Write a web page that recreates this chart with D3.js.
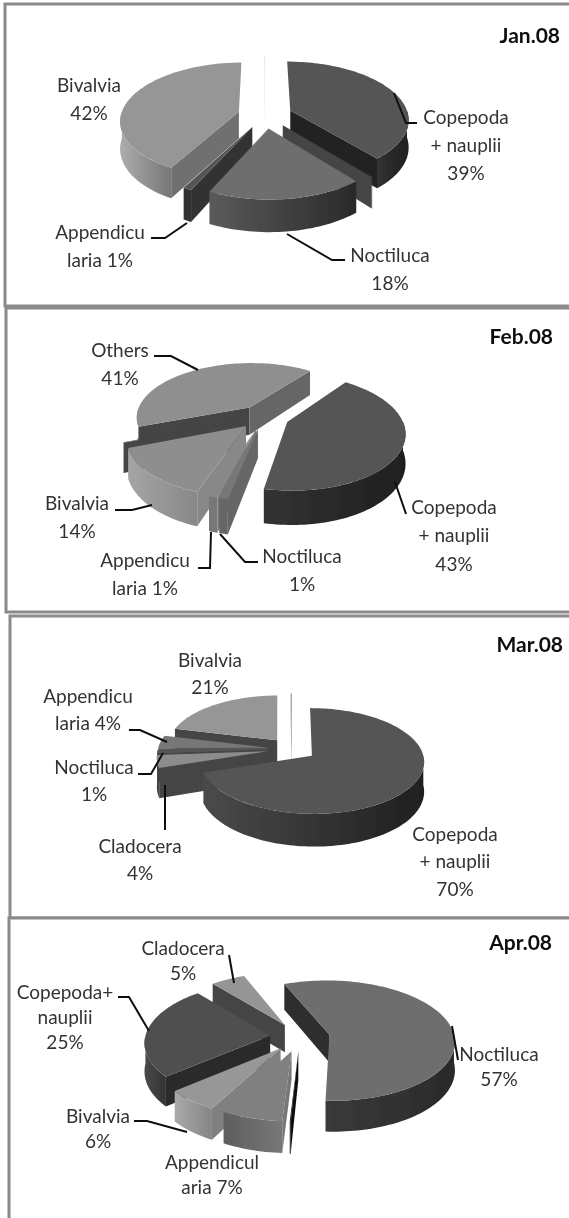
<!DOCTYPE html>
<html lang="en">
<head>
<meta charset="utf-8">
<script src="https://d3js.org/d3.v7.min.js"></script>
<style>
  html, body { margin: 0; padding: 0; background: #fff; overflow: hidden; }
  text { font-family: Lato, "Open Sans", sans-serif; font-size: 19px; fill: #333; }
  .title { font-weight: 700; font-size: 21px; fill: #111; }
</style>
</head>
<body>
<div id="chart"></div>
<script>
// the "Others" slivers carry no label in the original
var months = ["Jan.08", "Feb.08", "Mar.08", "Apr.08"];

var janNames = ["Copepoda + nauplii", "Others", "Noctiluca", "Appendicularia", "Bivalvia", "Others"];
var janValues = [39, 0.1, 18, 1, 42, 0.1];
var janLabels = [["Copepoda", "+ nauplii", "39%"], null, ["Noctiluca", "18%"], ["Appendicu", "laria 1%"], ["Bivalvia", "42%"], null];

var febNames = ["Copepoda + nauplii", "Noctiluca", "Appendicularia", "Bivalvia", "Others", "Others"];
var febValues = [43, 1, 1, 14, 0.1, 41];
var febLabels = [["Copepoda", "+ nauplii", "43%"], ["Noctiluca", "1%"], ["Appendicu", "laria 1%"], ["Bivalvia", "14%"], null, ["Others", "41%"]];

var marNames = ["Copepoda + nauplii", "Cladocera", "Noctiluca", "Appendicularia", "Bivalvia", "Others"];
var marValues = [70, 4, 1, 4, 21, 0.2];
var marLabels = [["Copepoda", "+ nauplii", "70%"], ["Cladocera", "4%"], ["Noctiluca", "1%"], ["Appendicu", "laria 4%"], ["Bivalvia", "21%"], null];

var aprNames = ["Noctiluca", "Others", "Appendicularia", "Bivalvia", "Copepoda + nauplii", "Cladocera"];
var aprValues = [57, 0.1, 7, 6, 25, 5];
var aprLabels = [["Noctiluca", "57%"], null, ["Appendicul", "aria 7%"], ["Bivalvia", "6%"], ["Copepoda+", "nauplii", "25%"], ["Cladocera", "5%"]];

var width = 569, height = 1218;

// one entry per slice: top, start wall, end wall, rim colours left to right
var panels = [
  {
    name: months[0], values: janValues, labels: janLabels,
    frame: [5, 4, 600, 302], titleAt: [560, 36], lineGap: 28,
    cx: 265, cy: 115, rx: 118, ry: 57, depth: 27, explode: 0.23, start: 0, tilt: 0.14,
    tops: ["#555", "#444", "#6e6e6e", "#555", "#969696", "#ddd"],
    wallA: ["#222", "#444", "#444", "#333", "#6f6f6f", "#ddd"],
    wallB: ["#222", "#444", "#444", "#333", "#6f6f6f", "#ddd"],
    rims: [["#333", "#1f1f1f"], ["#444", "#444"], ["#5a5a5a", "#2a2a2a"], ["#333", "#333"], ["#adadad", "#777"], ["#ddd", "#ddd"]],
    labelAt: [[466, 117], null, [390, 255], [100, 232], [89, 85], null],
    leaders: [[[394, 93], [406, 123], [417, 123]], null, [[287, 234], [332, 260], [345, 260]], [[187, 223], [165, 238], [151, 238]], null, null]
  },
  {
    name: months[1], values: febValues, labels: febLabels,
    frame: [6, 308, 600, 304], titleAt: [553, 337], lineGap: 28.5,
    cx: 264, cy: 417, rx: 114, ry: 55, depth: 28, explode: 0.22, start: 37, tilt: 0.17,
    tops: ["#555", "#777", "#888", "#8e8e8e", "#444", "#8f8f8f"],
    wallA: ["#222", "#666", "#777", "#888", "#444", "#444"],
    wallB: ["#222", "#666", "#777", "#888", "#444", "#666"],
    rims: [["#333", "#1f1f1f"], ["#666", "#666"], ["#777", "#777"], ["#a5a5a5", "#888"], ["#444", "#444"], ["#888", "#666"]],
    labelAt: [[454, 507], [302, 556], [145, 560], [77, 503], null, [120, 350]],
    leaders: [[[395, 482], [406, 514]], [[220, 534], [245, 562], [258, 562]], [[211, 532], [210, 568], [198, 568]], [[152, 505], [132, 510], [115, 510]], null, [[198, 370], [171, 356], [154, 356]]]
  },
  {
    name: months[2], values: marValues, labels: marLabels,
    frame: [10, 616, 600, 302], titleAt: [563, 645], lineGap: 27.5,
    cx: 292, cy: 749, rx: 110, ry: 51, depth: 29, explode: 0.22, start: 0, tilt: 0.1,
    tops: ["#555", "#8c8c8c", "#555", "#777", "#969696", "#999"],
    wallA: ["#222", "#444", "#444", "#555", "#444", "#999"],
    wallB: ["#222", "#444", "#444", "#555", "#444", "#999"],
    rims: [["#4a4a4a", "#1f1f1f"], ["#444", "#444"], ["#444", "#444"], ["#555", "#555"], ["#444", "#444"], ["#999", "#999"]],
    labelAt: [[455, 834], [140, 846], [94, 767], [88, 696], [210, 660], null],
    leaders: [null, [[165, 785], [165, 830]], [[163, 753], [151, 774], [138, 774]], [[167, 742], [140, 730], [129, 730]], null, null]
  },
  {
    name: months[3], values: aprValues, labels: aprLabels,
    frame: [9, 918, 600, 400], titleAt: [552, 943], lineGap: 25,
    cx: 300, cy: 1037, rx: 125, ry: 60, depth: 28, explode: 0.24, start: -22, tilt: 0.1,
    tops: ["#6e6e6e", "#111", "#808080", "#979797", "#505050", "#959595"],
    wallA: ["#2e2e2e", "#111", "#777", "#808080", "#2a2a2a", "#444"],
    wallB: ["#2e2e2e", "#111", "#777", "#808080", "#2a2a2a", "#444"],
    rims: [["#3a3a3a", "#2a2a2a"], ["#111", "#111"], ["#5e5e5e", "#777"], ["#aaa", "#858585"], ["#4a4a4a", "#333"], ["#444", "#444"]],
    labelAt: [[499, 1054], null, [212, 1162], [98, 1116], [65, 992], [183, 948]],
    leaders: [[[452, 1026], [458, 1060]], null, null, [[187, 1132], [147, 1121], [134, 1121]], [[149, 1031], [129, 997], [118, 997]], [[234, 983], [229, 955]]]
  }
];

var svg = d3.select("#chart").append("svg")
  .attr("width", width)
  .attr("height", height);

var defs = svg.append("defs");
defs.append("filter").attr("id", "soft")
  .attr("filterUnits", "userSpaceOnUse")
  .attr("x", 0).attr("y", 0)
  .attr("width", width).attr("height", height)
  .append("feGaussianBlur").attr("stdDeviation", 0.6);

var root = svg.append("g").attr("filter", "url(#soft)");
var lineGen = d3.line();
var gradId = 0;

function drawPanel(p) {
  var g = root.append("g");

  g.append("rect")
    .attr("x", p.frame[0]).attr("y", p.frame[1])
    .attr("width", p.frame[2]).attr("height", p.frame[3])
    .attr("fill", "#fff")
    .attr("stroke", "#8a8a8a")
    .attr("stroke-width", 3);

  var xScale = d3.scaleLinear().domain([-1, 1]).range([-p.rx, p.rx]);
  var yScale = d3.scaleLinear().domain([-1, 1]).range([-p.ry, p.ry]);

  var start = p.start * Math.PI / 180;
  var arcs = d3.pie().sort(null).startAngle(start).endAngle(start + 2 * Math.PI)(p.values);

  // world point -> screen, near side of the pie drawn a bit larger
  function project(wx, wy, drop) {
    var s = 1 / (1 - p.tilt * wy);
    return [p.cx + xScale(wx) * s, p.cy + yScale(wy) * s + (drop || 0) * s];
  }

  function rimPoint(d, a, drop) {
    var mid = (d.startAngle + d.endAngle) / 2;
    var ox = p.explode * Math.sin(mid), oy = -p.explode * Math.cos(mid);
    return project(ox + Math.sin(a), oy - Math.cos(a), drop);
  }

  function apexPoint(d, drop) {
    var mid = (d.startAngle + d.endAngle) / 2;
    return project(p.explode * Math.sin(mid), -p.explode * Math.cos(mid), drop);
  }

  function arcPoints(d, a0, a1, drop) {
    var n = Math.max(2, Math.ceil((a1 - a0) / 0.03));
    return d3.range(n + 1).map(function(i) {
      return rimPoint(d, a0 + (a1 - a0) * i / n, drop);
    });
  }

  function wall(a, d) {
    return [apexPoint(d, 0), rimPoint(d, a, 0), rimPoint(d, a, p.depth), apexPoint(d, p.depth)];
  }

  // back slices first
  var order = arcs.slice().sort(function(a, b) {
    return -Math.cos((a.startAngle + a.endAngle) / 2) - -Math.cos((b.startAngle + b.endAngle) / 2);
  });

  order.forEach(function(d) {
    var i = d.index;
    var cell = g.append("g").attr("class", "slice");

    if (Math.sin(d.startAngle) < 0) {
      cell.append("path").attr("d", lineGen(wall(d.startAngle, d)) + "Z").attr("fill", p.wallA[i]);
    }
    if (Math.sin(d.endAngle) > 0) {
      cell.append("path").attr("d", lineGen(wall(d.endAngle, d)) + "Z").attr("fill", p.wallB[i]);
    }

    // rim, only where it turns towards the viewer
    [0, 2 * Math.PI].forEach(function(shift) {
      var a0 = Math.max(d.startAngle, Math.PI / 2 + shift);
      var a1 = Math.min(d.endAngle, 3 * Math.PI / 2 + shift);
      if (a1 <= a0) return;
      var up = arcPoints(d, a0, a1, 0);
      var down = arcPoints(d, a0, a1, p.depth).reverse();
      var xs = up.map(function(q) { return q[0]; });
      var id = "rim" + (gradId++);
      var grad = defs.append("linearGradient").attr("id", id)
        .attr("gradientUnits", "userSpaceOnUse")
        .attr("x1", d3.min(xs)).attr("x2", d3.max(xs) + 0.01)
        .attr("y1", 0).attr("y2", 0);
      grad.append("stop").attr("offset", 0).attr("stop-color", p.rims[i][0]);
      grad.append("stop").attr("offset", 1).attr("stop-color", p.rims[i][1]);
      cell.append("path").attr("d", lineGen(up.concat(down)) + "Z").attr("fill", "url(#" + id + ")");
    });

    var top = [apexPoint(d, 0)].concat(arcPoints(d, d.startAngle, d.endAngle, 0));
    cell.append("path").attr("d", lineGen(top) + "Z").attr("fill", p.tops[i]);
  });

  p.leaders.forEach(function(pts) {
    if (!pts) return;
    g.append("path")
      .attr("d", lineGen(pts))
      .attr("fill", "none")
      .attr("stroke", "#111")
      .attr("stroke-width", 2);
  });

  p.labels.forEach(function(lines, i) {
    if (!lines) return;
    var at = p.labelAt[i];
    lines.forEach(function(txt, k) {
      g.append("text")
        .attr("x", at[0])
        .attr("y", at[1] + k * p.lineGap)
        .attr("dy", "0.35em")
        .attr("text-anchor", "middle")
        .text(txt);
    });
  });

  g.append("text")
    .attr("class", "title")
    .attr("x", p.titleAt[0])
    .attr("y", p.titleAt[1])
    .attr("dy", "0.35em")
    .attr("text-anchor", "end")
    .text(p.name);
}

panels.forEach(drawPanel);
</script>
</body>
</html>
